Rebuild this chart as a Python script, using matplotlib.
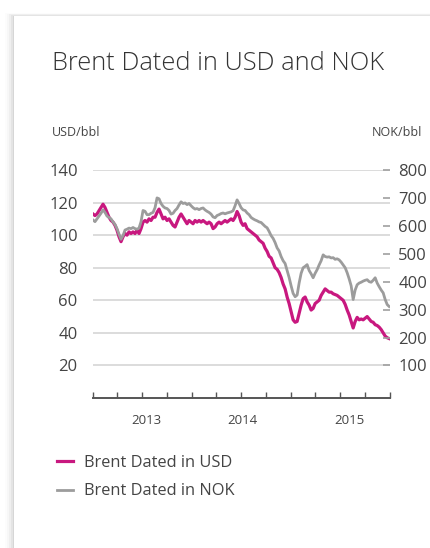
import pandas as pd
import matplotlib
matplotlib.use('Agg')
import matplotlib.pyplot as plt
import matplotlib.dates as mdates
from matplotlib.patches import Rectangle
from matplotlib.transforms import blended_transform_factory

plt.rcParams['font.family'] = ['Open Sans', 'DejaVu Sans']

# weekly-ish readings, Jan 2013 - Dec 2015
usd = [113, 112, 113, 115, 117, 119, 117, 114, 111, 109,
       108, 106, 103, 99, 96, 99, 101, 100, 102, 101,
       102, 101, 103, 101, 104, 108, 109, 108, 110, 109,
       111, 111, 114, 116, 113, 110, 111, 109, 110, 108,
       106, 105, 108, 111, 113, 111, 109, 107, 109, 108,
       107, 109, 108, 109, 108, 109, 108, 107, 108, 107,
       104, 105, 107, 108, 107, 108, 109, 108, 109, 110,
       109, 111, 114.5, 112, 108, 106, 107, 104, 103, 102,
       101, 100, 99, 97, 96, 95, 92, 90, 87, 86,
       83, 80, 79, 77, 74, 70, 67, 62, 58, 53,
       48, 46.5, 47, 52, 57, 61, 62, 59, 57, 54,
       55, 58, 59, 60, 63, 65, 67, 66, 65, 65,
       64, 63.5, 63, 62, 61, 60, 57.5, 54, 51, 47,
       43, 47, 49.5, 48, 48.5, 48, 49, 50, 48.5, 47,
       46.5, 45, 44.5, 43.5, 42, 40, 38, 37, 36.5]

nok = [621, 615, 625, 635, 645, 657, 648, 635, 630, 625,
       614, 605, 590, 570, 552, 565, 585, 588, 592, 590,
       594, 590, 588, 592, 615, 655, 652, 640, 640, 645,
       648, 665, 700, 697, 680, 670, 664, 662, 655, 642,
       645, 655, 662, 675, 686, 680, 682, 676, 680, 672,
       665, 660, 662, 658, 662, 664, 657, 652, 648, 642,
       632, 629, 637, 640, 644, 646, 643, 646, 648, 650,
       654, 672, 693, 680, 665, 657, 655, 646, 640, 630,
       625, 621, 618, 614, 612, 605, 598, 593, 580, 565,
       555, 540, 521, 510, 490, 475, 465, 440, 415, 385,
       358, 346, 352, 395, 430, 450, 455, 461, 440, 428,
       414, 430, 443, 460, 475, 496, 490, 488, 489, 485,
       486, 480, 482, 478, 470, 460, 450, 432, 410, 385,
       336, 370, 389, 395, 398, 402, 405, 407, 400, 398,
       405, 414, 395, 382, 370, 360, 336, 318, 311]

dates = pd.date_range('2013-01-01', '2015-12-29', periods=len(usd))

usd_ticks = [20, 40, 60, 80, 100, 120, 140]
nok_ticks = [100, 200, 300, 400, 500, 600, 700, 800]
year_labels = ['2013', '2014', '2015']
year_label_pos = ['2013-07-18', '2014-07-07', '2015-08-06']

magenta = '#c8187f'
grey = '#9c9c9c'
text_col = '#444444'

W, H = 431, 548
fig = plt.figure(figsize=(W / 100, H / 100), dpi=100)

# card with soft shadow (mostly on the left edge)
for k, a in [(9, 0.012), (7, 0.02), (5, 0.03), (3, 0.045), (1, 0.06)]:
    fig.add_artist(Rectangle(((14 - k) / W, 0), 1, 1 - (16 - k * 0.35) / H, transform=fig.transFigure,
                             facecolor='black', alpha=a, edgecolor='none', zorder=-3))
fig.add_artist(Rectangle((14 / W, 0), 1, 1 - 16 / H, transform=fig.transFigure,
                         facecolor='white', edgecolor='none', zorder=-2))

ax = fig.add_axes([93 / W, 1 - 398 / H, 297 / W, 228 / H])
ax.set_facecolor('none')
ax.set_ylim(0, 140)
ax.set_xlim(pd.Timestamp('2013-01-01'), pd.Timestamp('2016-01-01'))
l1, = ax.plot(dates, usd, color=magenta, lw=2.3, label='Brent Dated in USD', solid_joinstyle='round')

ax.set_yticks(usd_ticks)
ax.yaxis.grid(True, color='#d6d6d6', lw=1.2)
ax.set_axisbelow(True)
for s in ['top', 'left', 'right']:
    ax.spines[s].set_visible(False)
ax.spines['bottom'].set_color('#555555')
ax.spines['bottom'].set_linewidth(1.4)
ax.tick_params(axis='y', length=0, pad=11, labelsize=12, labelcolor=text_col)
ax.xaxis.set_major_locator(mdates.MonthLocator(bymonth=[1, 4, 7, 10]))
ax.tick_params(axis='x', direction='in', length=4, width=1, color='#555555', labelbottom=False)

trans = blended_transform_factory(ax.transData, ax.transAxes)
for lab, pos in zip(year_labels, year_label_pos):
    ax.text(pd.Timestamp(pos), -0.097, lab, transform=trans, ha='center', va='center',
            fontsize=9.5, color=text_col)

ax2 = ax.twinx()
ax2.set_ylim(-16.7, 800)
l2, = ax2.plot(dates, nok, color=grey, lw=2.0, label='Brent Dated in NOK', solid_joinstyle='round')
ax2.set_yticks(nok_ticks)
for s in ax2.spines.values():
    s.set_visible(False)
ax2.tick_params(axis='y', direction='in', length=5, width=1.2, color='#a0a0a0', pad=6,
                labelsize=12, labelcolor=text_col)

fig.text(52 / W, 1 - 64 / H, 'Brent Dated in USD and NOK', fontsize=18.3, color='#333333',
         ha='left', va='center', fontweight='light')
fig.text(52 / W, 1 - 132 / H, 'USD/bbl', fontsize=9, color=text_col, ha='left', va='center')
fig.text(422 / W, 1 - 132 / H, 'NOK/bbl', fontsize=9, color=text_col, ha='right', va='center')

fig.legend(handles=[l1, l2], loc='upper left', bbox_to_anchor=(57 / W, 1 - 455 / H),
           frameon=False, handlelength=1.0, handletextpad=0.65, labelspacing=0.75,
           fontsize=11.8, labelcolor=text_col, borderaxespad=0, borderpad=0)

fig.savefig('out.png', dpi=100)
